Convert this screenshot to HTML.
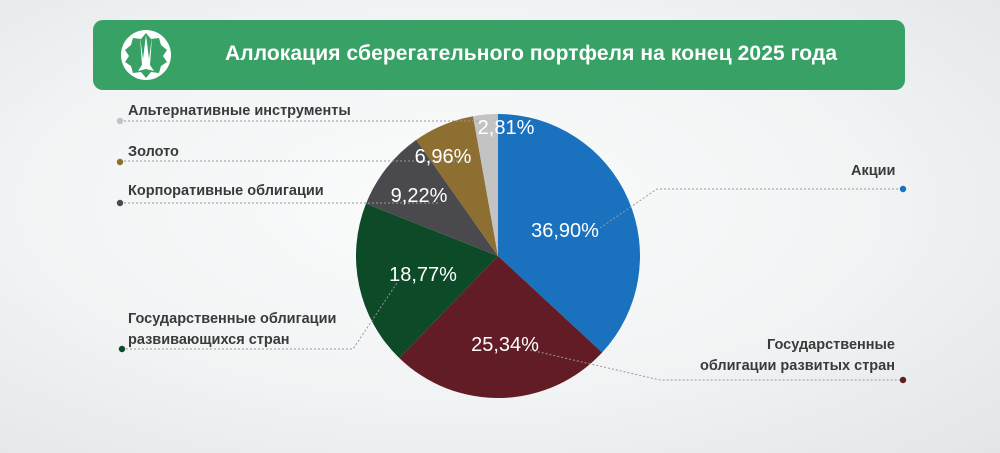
<!DOCTYPE html>
<html><head><meta charset="utf-8"><style>
html,body{margin:0;padding:0}
body{width:1000px;height:453px;overflow:hidden;background:radial-gradient(ellipse at 45% 45%,#fbfcfc 0%,#f1f3f4 55%,#e2e6e8 100%);font-family:"Liberation Sans","Noto Sans CJK SC",sans-serif;position:relative}
.hdr{position:absolute;left:93px;top:20px;width:812px;height:70px;background:#38a165;border-radius:10px}
.hdr .t{position:absolute;left:132px;top:22px;color:#fff;font-size:21px;font-weight:bold;letter-spacing:0.1px}
.lbl{position:absolute;color:#3a3a3a;font-size:14.5px;font-weight:bold;line-height:21px}
</style></head><body>
<div class="hdr">
<svg style="position:absolute;left:27px;top:9px" width="52" height="52" viewBox="0 0 52 52">
<circle cx="26" cy="26" r="25" fill="#fff"/>
<path d="M26 4 L31 10 L39 9 L41 16 L47 21 L43 27 L47 33 L41 37 L39 44 L31 43 L26 49 L21 43 L13 44 L11 37 L5 33 L9 27 L5 21 L11 16 L13 9 L21 10 Z" fill="#38a165"/>
<path d="M20 8 L22 36 L18 42 L26 40 L34 42 L30 36 L32 8 L29 30 L26 6 L23 30 Z" fill="#fff"/>
</svg>
<div class="t">Аллокация сберегательного портфеля на конец 2025 года</div>
</div>
<svg id="s" style="position:absolute;left:0;top:0" width="1000" height="453"></svg>
<div class="lbl" style="left:128px;top:101px">Альтернативные инструменты</div>
<div class="lbl" style="left:128px;top:142px">Золото</div>
<div class="lbl" style="left:128px;top:181px">Корпоративные облигации</div>
<div class="lbl" style="left:128px;top:309px">Государственные облигации<br>развивающихся стран</div>
<div class="lbl" style="left:851px;top:161px">Акции</div>
<div class="lbl" style="right:105px;top:335px;text-align:right">Государственные<br>облигации развитых стран</div>
<script>
var s=document.getElementById('s'),cx=498,cy=256,r=142;
var d=[[36.90,'#1a72bf'],[25.34,'#621c25'],[18.77,'#0d4a27'],[9.22,'#4a4a4e'],[6.96,'#8d6f31'],[2.81,'#c3c3c3']];
var h='',a=0;
function pt(g){var t=g*Math.PI/180;return [cx+r*Math.sin(t),cy-r*Math.cos(t)];}
d.forEach(function(e){var b=a+e[0]*3.6;if(b>359.9)b=360;var p=pt(a),q=pt(b);
h+='<path d="M'+cx+' '+cy+' L'+p[0]+' '+p[1]+' A'+r+' '+r+' 0 '+((b-a)>180?1:0)+' 1 '+q[0]+' '+q[1]+' Z" fill="'+e[1]+'"/>';a=b;});
var L='stroke="#999" stroke-width="1" stroke-dasharray="2,2" fill="none"';
h+='<polyline points="120,121 480,121" '+L+'/>';
h+='<polyline points="120,161 470,161" '+L+'/>';
h+='<polyline points="120,203 440,203" '+L+'/>';
h+='<polyline points="122,349 353,349 397,283" '+L+'/>';
h+='<polyline points="600,228 657,189 903,189" '+L+'/>';
h+='<polyline points="530,350 660,380 903,380" '+L+'/>';
[[120,121,'#c3c3c3'],[120,162,'#8d6f31'],[120,203,'#4a4a4e'],[122,349,'#0d4a27'],[903,189,'#1a72bf'],[903,380,'#621c25']].forEach(function(c){h+='<circle cx="'+c[0]+'" cy="'+c[1]+'" r="3.2" fill="'+c[2]+'"/>';});
var T='fill="#fff" font-family="Liberation Sans, sans-serif" font-size="20" text-anchor="middle"';
[[565,237,'36,90%'],[505,351,'25,34%'],[423,281,'18,77%'],[419,202,'9,22%'],[443,163,'6,96%'],[506,134,'2,81%']].forEach(function(c){h+='<text x="'+c[0]+'" y="'+c[1]+'" '+T+'>'+c[2]+'</text>';});
s.innerHTML=h;
</script>
</body></html>
